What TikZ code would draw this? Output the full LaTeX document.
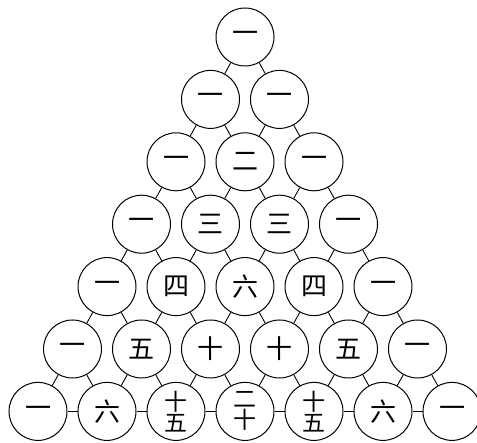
\documentclass[tikz,border=0pt]{standalone}
\usepackage{fontspec}
\newfontfamily\cjk{Noto Sans CJK SC}
\newcommand\stk[2]{\vbox{\cjk\fontsize{23}{21}\selectfont\lineskiplimit=-100pt\baselineskip=21pt\hbox{#1}\hbox{#2}}}
\tikzset{
  num/.style={circle,draw,line width=1pt,minimum size=58pt,inner sep=0pt,
    font=\cjk\fontsize{26}{26}\selectfont},
  link/.style={line width=0.9pt}
}
\newcommand\pnode[3]{\node[num] (n#1-#2) at ({245+(#2-#1/2)*69},{37+#1*62.4}) {#3};}
\begin{document}
\begin{tikzpicture}[x=1pt,y=-1pt]
\path[use as bounding box] (0,0) rectangle (477,443);
\pnode{0}{0}{一}
\pnode{1}{0}{一}\pnode{1}{1}{一}
\pnode{2}{0}{一}\pnode{2}{1}{二}\pnode{2}{2}{一}
\pnode{3}{0}{一}\pnode{3}{1}{三}\pnode{3}{2}{三}\pnode{3}{3}{一}
\pnode{4}{0}{一}\pnode{4}{1}{四}\pnode{4}{2}{六}\pnode{4}{3}{四}\pnode{4}{4}{一}
\pnode{5}{0}{一}\pnode{5}{1}{五}\pnode{5}{2}{十}\pnode{5}{3}{十}\pnode{5}{4}{五}\pnode{5}{5}{一}
\pnode{6}{0}{一}\pnode{6}{1}{六}\pnode{6}{2}{\stk{十}{五}}\pnode{6}{3}{\stk{二}{十}}\pnode{6}{4}{\stk{十}{五}}\pnode{6}{5}{六}\pnode{6}{6}{一}
\foreach \r in {0,...,5}{
  \foreach \k in {0,...,\r}{
    \pgfmathtruncatemacro\rr{\r+1}
    \pgfmathtruncatemacro\kk{\k+1}
    \draw[link] (n\r-\k) -- (n\rr-\k);
    \draw[link] (n\r-\k) -- (n\rr-\kk);
  }
}
\foreach \k in {0,...,5}{
  \pgfmathtruncatemacro\kk{\k+1}
  \draw[link] (n6-\k) -- (n6-\kk);
}
\end{tikzpicture}
\end{document}
